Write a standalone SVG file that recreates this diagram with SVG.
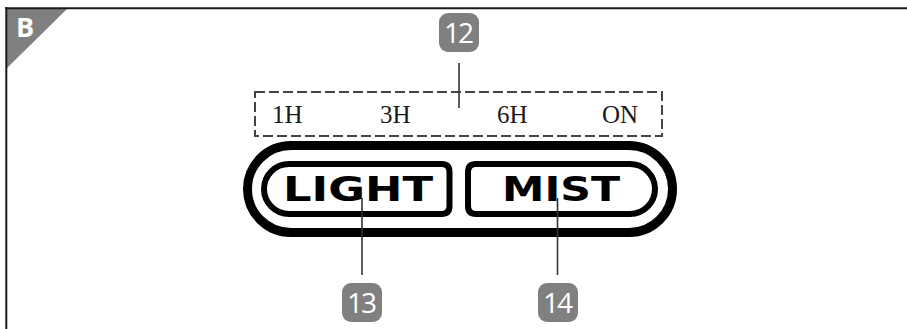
<svg xmlns="http://www.w3.org/2000/svg" width="907" height="329" viewBox="0 0 907 329">
<style>
.badge rect{fill:#808080}
.badge text{fill:#fff;font-family:"Open Sans","Noto Sans",sans-serif;font-size:28px;text-anchor:middle;letter-spacing:-2px}
.lead{stroke:#333;stroke-width:1.6;fill:none}
.timer{font-family:"Liberation Serif",serif;font-size:25px;fill:#1a1a1a}
.btn{font-family:"DejaVu Sans",sans-serif;font-weight:bold;font-size:34px;fill:#000}
</style>
<rect width="907" height="329" fill="#fff"/>
<g id="frame">
<polygon points="7,9 67,9 7,68" fill="#808080"/>
<line x1="5" y1="8.3" x2="907" y2="8.3" stroke="#1a1a1a" stroke-width="2"/>
<line x1="6.3" y1="7.3" x2="6.3" y2="329" stroke="#1a1a1a" stroke-width="2"/>
<text x="16" y="36.5" font-family="'Open Sans',sans-serif" font-weight="bold" font-size="27" fill="#fff">B</text>
</g>
<g id="timer-box">
<rect x="255" y="92" width="407" height="44" fill="none" stroke="#444" stroke-width="2" stroke-dasharray="10 4"/>
<text class="timer" x="272" y="123">1H</text>
<text class="timer" x="380" y="123">3H</text>
<text class="timer" x="497" y="123">6H</text>
<text class="timer" x="602" y="123">ON</text>
</g>
<g id="panel">
<rect x="247.5" y="145.5" width="425" height="87" rx="43.5" fill="none" stroke="#000" stroke-width="9"/>
</g>
<g id="light">
<path d="M289,164 H441.5 Q449.5,164 449.5,172 V206 Q449.5,214 441.5,214 H289 A25,25 0 0 1 289,164 Z" fill="none" stroke="#000" stroke-width="6"/>
<text class="btn" x="283" y="201" textLength="150" lengthAdjust="spacingAndGlyphs">LIGHT</text>
</g>
<g id="mist">
<path d="M476,164 H630 A25,25 0 0 1 630,214 H476 Q468,214 468,206 V172 Q468,164 476,164 Z" fill="none" stroke="#000" stroke-width="6"/>
<text class="btn" x="502" y="201" textLength="118" lengthAdjust="spacingAndGlyphs">MIST</text>
</g>
<g id="connectors">
<line class="lead" x1="459" y1="63" x2="459" y2="108"/>
<line class="lead" x1="362" y1="198" x2="362" y2="275"/>
<line class="lead" x1="557.5" y1="198" x2="557.5" y2="275"/>
</g>
<g id="badge-12" class="badge">
<rect x="439" y="13" width="40" height="39" rx="9"/>
<text x="458" y="42.5">12</text>
</g>
<g id="badge-13" class="badge">
<rect x="342" y="283" width="40" height="39" rx="9"/>
<text x="361" y="312.5">13</text>
</g>
<g id="badge-14" class="badge">
<rect x="538" y="283" width="40" height="39" rx="9"/>
<text x="557" y="312.5">14</text>
</g>
</svg>
